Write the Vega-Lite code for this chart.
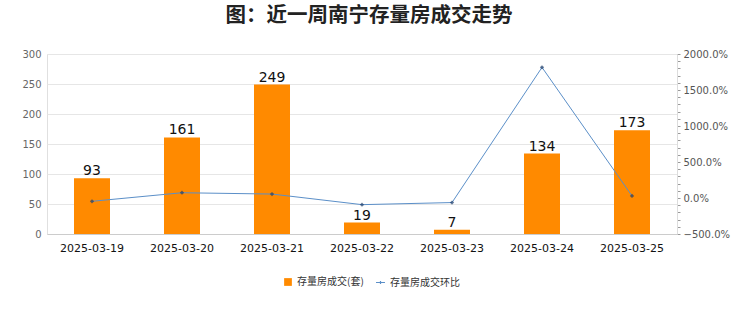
{
  "$schema": "https://vega.github.io/schema/vega-lite/v6.json",
  "width": 630,
  "height": 180,
  "autosize": "none",
  "padding": {"left": 47, "top": 54, "right": 63, "bottom": 78},
  "background": "#ffffff",
  "title": {
    "text": "图：近一周南宁存量房成交走势",
    "font": "Noto Sans CJK SC",
    "fontSize": 20.5,
    "fontWeight": "bold",
    "color": "#222222",
    "anchor": "middle",
    "offset": 23,
    "dx": 7
  },
  "config": {
    "view": {"stroke": "#e0e0e0"},
    "font": "Noto Sans CJK SC"
  },
  "data": {
    "values": [
      {"date": "2025-03-19", "count": 93, "ratio": -46},
      {"date": "2025-03-20", "count": 161, "ratio": 73.1},
      {"date": "2025-03-21", "count": 249, "ratio": 54.7},
      {"date": "2025-03-22", "count": 19, "ratio": -92.4},
      {"date": "2025-03-23", "count": 7, "ratio": -63.2},
      {"date": "2025-03-24", "count": 134, "ratio": 1814.3},
      {"date": "2025-03-25", "count": 173, "ratio": 29.1}
    ]
  },
  "encoding": {
    "x": {
      "field": "date",
      "type": "ordinal",
      "scale": {"paddingInner": 0.6, "paddingOuter": 0.3},
      "axis": {
        "title": null,
        "labelAngle": 0,
        "labelFontSize": 11,
        "labelColor": "#111111",
        "labelFont": "DejaVu Sans",
        "ticks": false,
        "domainColor": "#cccccc",
        "labelPadding": 8
      }
    }
  },
  "layer": [
    {
      "encoding": {
        "y": {
          "field": "count",
          "type": "quantitative",
          "scale": {"domain": [0, 300]},
          "axis": {
            "title": null,
            "values": [0, 50, 100, 150, 200, 250, 300],
            "labelOverlap": false,
            "labelFontSize": 10,
            "labelColor": "#666666",
            "labelFont": "DejaVu Sans",
            "ticks": false,
            "domain": false,
            "gridColor": "#e6e6e6",
            "labelPadding": 6
          }
        }
      },
      "layer": [
        {
          "mark": {"type": "bar"},
          "encoding": {
            "fill": {
              "datum": "存量房成交(套)",
              "scale": {"range": ["#FF8A00"]},
              "legend": {
                "title": null,
                "orient": "none",
                "legendX": 236,
                "legendY": 223,
                "symbolType": "square",
                "symbolSize": 60,
                "labelFontSize": 10,
                "labelColor": "#333333"
              }
            }
          }
        },
        {
          "mark": {"type": "text", "dy": -7, "fontSize": 14, "color": "#111111", "font": "DejaVu Sans"},
          "encoding": {
            "text": {"field": "count"}
          }
        }
      ]
    },
    {
      "encoding": {
        "y": {
          "field": "ratio",
          "type": "quantitative",
          "scale": {"domain": [-500, 2000]},
          "axis": {
            "title": null,
            "orient": "right",
            "values": [-500,-400,-300,-200,-100,0,100,200,300,400,500,600,700,800,900,1000,1100,1200,1300,1400,1500,1600,1700,1800,1900,2000],
            "labelExpr": "datum.value % 500 == 0 ? format(datum.value, '.1f') + '%' : ''",
            "labelOverlap": false,
            "labelFontSize": 10,
            "labelColor": "#555555",
            "labelFont": "DejaVu Sans",
            "tickSize": 3,
            "tickColor": "#999999",
            "domainColor": "#dddddd",
            "grid": false,
            "labelPadding": 3
          }
        }
      },
      "layer": [
        {
          "mark": {"type": "line", "strokeWidth": 1},
          "encoding": {
            "stroke": {
              "datum": "存量房成交环比",
              "scale": {"range": ["#5B8FC8"]},
              "legend": {
                "title": null,
                "orient": "none",
                "legendX": 328,
                "legendY": 223,
                "symbolType": "M-1,0H1M0,-0.35V0.35",
                "symbolSize": 80,
                "symbolStrokeColor": "#2C4F7C",
                "symbolStrokeWidth": 1.2,
                "labelFontSize": 10,
                "labelColor": "#333333"
              }
            }
          }
        },
        {
          "mark": {"type": "point", "shape": "diamond", "filled": true, "size": 18, "color": "#1F3F6B"}
        }
      ]
    }
  ],
  "resolve": {"scale": {"y": "independent"}}
}
